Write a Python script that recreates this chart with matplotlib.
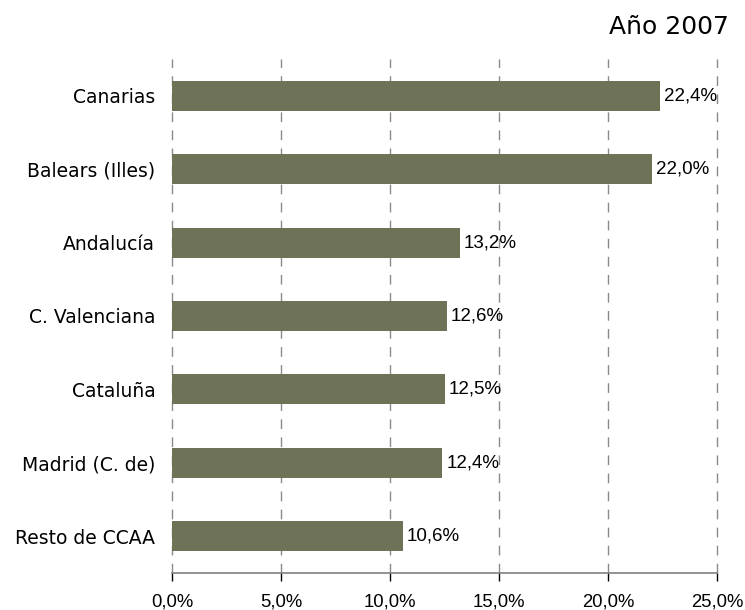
import matplotlib
matplotlib.use("Agg")
import matplotlib.pyplot as plt
from matplotlib.ticker import FuncFormatter

categories = ["Canarias", "Balears (Illes)", "Andalucía", "C. Valenciana",
              "Cataluña", "Madrid (C. de)", "Resto de CCAA"]
values = [22.4, 22.0, 13.2, 12.6, 12.5, 12.4, 10.6]
xticks = [0, 5, 10, 15, 20, 25]
title = "Año 2007"

plt.rcParams['font.family'] = ['DejaVu Sans']

fig = plt.figure(figsize=(7.45, 6.1), dpi=100)
ax = fig.add_axes([0.2309, 0.0607, 0.7315, 0.8426])

ypos = list(range(len(categories)))[::-1]
ax.barh(ypos, values, height=0.41, color="#6E7257", zorder=3)

for y, v in zip(ypos, values):
    ax.text(v + 0.18, y, f"{v:.1f}%".replace(".", ","), va="center", ha="left",
            fontsize=13.5, family="Liberation Sans", color="black", zorder=4)

ax.set_xlim(0, 25)
ax.set_ylim(-0.5, len(categories) - 0.5)
ax.set_xticks(xticks)
ax.xaxis.set_major_formatter(FuncFormatter(lambda x, p: f"{x:.1f}%".replace(".", ",")))
ax.set_yticks(ypos)
ax.set_yticklabels(categories, fontsize=13.5)

ax.tick_params(axis="y", length=0, pad=12)
ax.tick_params(axis="x", length=6, width=1, color="black", pad=9, direction="out")
for lab in ax.get_xticklabels():
    lab.set_family("Liberation Sans")
    lab.set_fontsize(13.3)

for s in ["top", "right", "left"]:
    ax.spines[s].set_visible(False)
ax.spines["bottom"].set_color("#808080")
ax.spines["bottom"].set_linewidth(1.2)

ax.grid(axis="x", color="#8a8a8a", linestyle=(0, (7, 6)), linewidth=1, zorder=0)
ax.grid(axis="y", visible=False)
ax.set_axisbelow(True)
for gl in ax.get_xgridlines():
    gl.set_clip_on(False)

fig.text(0.978, 0.945, title, ha="right", va="baseline", fontsize=18)

fig.savefig("out.png", dpi=100)
